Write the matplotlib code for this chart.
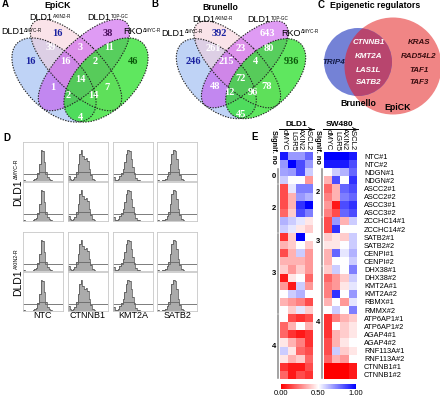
import numpy as np
import matplotlib
matplotlib.use('Agg')
import matplotlib.pyplot as plt
from matplotlib.patches import Ellipse

W, H = 440, 399

# --- Venn counts (A: EpiCK, B: Brunello) ---
# order: b, p, pu, g, b&p, p&pu, pu&g, b&p&pu, p&pu&g, all, b&pu, p&g, b&pu&g, b&p&g, b&g
epick_counts = [16, 16, 38, 46, 39, 3, 11, 16, 2, 14, 1, 7, 2, 14, 4]
brunello_counts = [246, 392, 643, 936, 261, 23, 80, 215, 4, 72, 48, 78, 12, 96, 45]
venn_names = ['DLD1', 'DLD1', 'DLD1', 'RKO']
venn_sups = ['ΔMYC-R', 'AXIN2-R', 'TOP-GC', 'ΔMYC-R']

# --- C: epigenetic regulators ---
shared_genes = ['CTNNB1', 'KMT2A', 'LAS1L', 'SATB2']
brunello_only = ['TRIP4']
epick_only = ['KRAS', 'RAD54L2', 'TAF1', 'TAF3']

# --- D: flow histograms (relative counts per bin) ---
hist_labels = ['NTC', 'CTNNB1', 'KMT2A', 'SATB2']
hist_ntc = [0.04, 0, 0, 0, 0, 0.01, 0.02, 0.05, 0.1, 0.25, 0.55, 1.0, 0.95, 0.6, 0.3, 0.12, 0.05, 0.02, 0.01, 0, 0, 0, 0, 0, 0]
hist_ctnnb1 = [0.15, 0.05, 0.03, 0.05, 0.12, 0.3, 0.55, 0.85, 1.0, 0.8, 0.7, 0.75, 0.65, 0.4, 0.2, 0.08, 0.03, 0.01, 0, 0, 0, 0, 0, 0, 0]
hist_kmt2a = [0.12, 0.04, 0.04, 0.08, 0.15, 0.25, 0.4, 0.6, 0.85, 1.0, 0.95, 0.7, 0.45, 0.25, 0.1, 0.04, 0.02, 0.01, 0, 0, 0, 0, 0, 0, 0]
hist_satb2 = [0.03, 0.01, 0.01, 0.02, 0.04, 0.08, 0.15, 0.3, 0.55, 0.85, 1.0, 0.95, 0.7, 0.4, 0.18, 0.07, 0.03, 0.01, 0, 0, 0, 0, 0, 0, 0]
hist_rows = [('DLD1', 'ΔMYC-R'), ('DLD1', 'AXIN2-R')]

# --- E: heatmap ---
genes = ['NTC#1', 'NTC#2', 'NDGN#1', 'NDGN#2', 'ASCC2#1', 'ASCC2#2', 'ASCC3#1', 'ASCC3#2',
         'ZCCHC14#1', 'ZCCHC14#2', 'SATB2#1', 'SATB2#2', 'CENPI#1', 'CENPI#2', 'DHX38#1',
         'DHX38#2', 'KMT2A#1', 'KMT2A#2', 'RBMX#1', 'RMMX#2', 'ATP6AP1#1', 'ATP6AP1#2',
         'AGAP4#1', 'AGAP4#2', 'RNF113A#1', 'RNF113A#2', 'CTNNB1#1', 'CTNNB1#2']
reporters = ['dMYC', 'LGR5', 'AXIN2', 'ASCL2']
dld1_dmyc = [0.95, 0.7, 0.68, 0.6, 0.15, 0.15, 0.15, 0.2, 0.65, 0.6, 0.1, 0.35, 0.15, 0.35,
             0.4, 0.05, 0.3, 0.5, 0.35, 0.5, 0.5, 0.2, 0.2, 0.45, 0.6, 0.45, 0.1, 0.2]
dld1_lgr5 = [0.7, 1.0, 0.7, 0.5, 0.55, 0.35, 0.35, 0.4, 0.6, 0.55, 0.4, 0.4, 0.35, 0.35,
             0.3, 0.45, 0.05, 0.6, 0.3, 0.4, 0.15, 0.35, 0.1, 0.35, 0.45, 0.35, 0.05, 0.05]
dld1_axin2 = [0.7, 0.85, 0.85, 0.5, 0.75, 0.7, 0.9, 0.85, 0.55, 0.45, 1.0, 0.5, 0.6, 0.35,
              0.4, 0.5, 0.6, 0.65, 0.25, 0.55, 0.1, 0.5, 0.05, 0.25, 0.2, 0.4, 0.05, 0.15]
dld1_ascl2 = [0.8, 0.7, 0.6, 0.3, 0.75, 0.65, 1.0, 0.75, 0.45, 0.4, 0.5, 0.4, 0.3, 0.3,
              0.3, 0.2, 0.3, 0.5, 0.15, 0.4, 0.15, 0.35, 0.1, 0.1, 0.15, 0.2, 0.15, 0.1]
sw480_dmyc = [1.0, 0.95, 0.5, 0.35, 0.2, 0.25, 0.3, 0.25, 0.15, 0.15, 0.4, 0.45, 0.35, 0.35,
              0.4, 0.2, 0.25, 0.25, 0.35, 0.5, 0.1, 0.1, 0.1, 0.15, 0.15, 0.2, 0.0, 0.0]
sw480_lgr5 = [1.0, 0.95, 0.6, 0.85, 0.35, 0.35, 0.05, 0.15, 0.7, 0.9, 0.45, 0.45, 0.8, 0.5,
              0.6, 0.3, 0.3, 0.9, 0.5, 0.6, 0.25, 0.5, 0.35, 0.35, 0.6, 0.35, 0.0, 0.0]
sw480_axin2 = [1.0, 0.95, 0.65, 0.5, 0.8, 0.75, 0.85, 0.8, 0.35, 0.5, 0.4, 0.5, 0.55, 0.5,
               0.5, 0.4, 0.45, 0.5, 0.3, 0.5, 0.35, 0.4, 0.4, 0.45, 0.4, 0.3, 0.0, 0.0]
sw480_ascl2 = [0.95, 0.85, 0.8, 0.9, 0.85, 0.8, 0.9, 0.85, 0.6, 0.5, 0.6, 0.6, 0.65, 0.6,
               0.75, 0.6, 0.55, 0.7, 0.55, 0.75, 0.4, 0.45, 0.45, 0.5, 0.45, 0.5, 0.05, 0.05]
# (label, first row, end row)
dld1_groups = [('0', 2, 4), ('2', 4, 10), ('3', 10, 20), ('4', 20, 28)]
sw480_groups = [('2', 2, 8), ('3', 8, 14), ('4', 14, 28)]

plt.rcParams['font.family'] = ['Liberation Sans', 'DejaVu Sans']

fig = plt.figure(figsize=(W / 100, H / 100), dpi=100)
canvas = fig.add_axes([0, 0, 1, 1])
canvas.set_xlim(0, W)
canvas.set_ylim(H, 0)
canvas.axis('off')
renderer = fig.canvas.get_renderer()


def px_axes(x, y, w, h):
    return fig.add_axes([x / W, 1 - (y + h) / H, w / W, h / H])


def sup_label(x, y, main, sup, fs, sfs, rot=0):
    # main text with a small superscript, centred on (x, y)
    if rot == 0:
        t1 = canvas.text(x, y, main, fontsize=fs, ha='left', va='center')
        t2 = canvas.text(x, y, sup, fontsize=sfs, ha='left', va='top')
        w1 = t1.get_window_extent(renderer).width
        w2 = t2.get_window_extent(renderer).width
        left = max(x - (w1 + w2) / 2, 1)
        t1.set_x(left)
        t2.set_x(left + w1 + 0.3)
        t2.set_y(y - fs * 0.55)
    else:
        t1 = canvas.text(x, y, main, fontsize=fs, ha='center', va='bottom', rotation=90)
        t2 = canvas.text(x, y, sup, fontsize=sfs, ha='left', va='bottom', rotation=90)
        bb1 = t1.get_window_extent(renderer)
        h1, w1 = bb1.height, bb1.width
        h2 = t2.get_window_extent(renderer).height
        bottom = y + (h1 + h2) / 2
        t1.set_y(bottom)
        t2.set_y(bottom - h1 - 0.3)
        t2.set_x(x - w1 / 2 + 0.6)


# region label offsets from venn centre (pixels)
region_pos = [(-50, -11), (-23, -40), (28, -40), (53, -11), (-29, -25), (0, -25), (29, -25),
              (-15, -11), (15, -11), (0, 7), (-27, 15), (27, 15), (-12, 22), (13, 22), (0, 45)]
ell_fill = ['#8cb0f0', '#f7cdd8', '#c54aec', '#2ae02a']
ell_alpha = [0.55, 0.55, 0.55, 0.75]


def draw_venn(cx, cy, s, counts, title, num_colors):
    geo = [(-26, 7, 104, 58, 45), (-4, -8, 120, 48, 45), (4, -8, 120, 48, -45), (26, 7, 104, 58, -45)]
    for (dx, dy, w, h, ang), fc, al in zip(geo, ell_fill, ell_alpha):
        canvas.add_patch(Ellipse((cx + dx * s, cy + dy * s), w * s, h * s, angle=ang,
                                 fc=fc, alpha=al, ec='none'))
    for (dx, dy, w, h, ang) in geo:
        canvas.add_patch(Ellipse((cx + dx * s, cy + dy * s), w * s, h * s, angle=ang,
                                 fc='none', ec='#222222', lw=0.8, ls=(0, (1.2, 1.2))))
    for (dx, dy), n, c in zip(region_pos, counts, num_colors):
        canvas.text(cx + dx * s, cy + dy * s, str(n), ha='center', va='center',
                    family='Liberation Serif', weight='bold', fontsize=7.5, color=c)
    lab_pos = [(-62, -41), (-30, -55), (28, -55), (62, -41)]
    for (dx, dy), nm, sup in zip(lab_pos, venn_names, venn_sups):
        sup_label(cx + dx * s, cy + dy * s, nm, sup, 6.5, 3.3)
    canvas.text(cx - 22 * s, cy - 68 * s, title, ha='center', va='center',
                fontsize=6.3, weight='bold')


col_a = ['#1b22a0', '#1b22a0', '#4a0d5c', '#0b5a0b'] + ['white'] * 11
col_b = ['#1b22a0', '#1b22a0', 'white', '#0b5a0b'] + ['white'] * 11
draw_venn(80, 73, 1.0, epick_counts, 'EpiCK', col_a)
draw_venn(241, 72, 0.95, brunello_counts, 'Brunello', col_b)

# panel letters
for x, y, t in [(2, 4, 'A'), (151, 4, 'B'), (318, 5, 'C'), (3, 138, 'D'), (251, 137, 'E')]:
    canvas.text(x, y, t, fontsize=7, weight='bold', ha='left', va='center')

# --- C ---
blue_c = Ellipse((358, 62), 68, 68, fc='#7482d6', ec='none')
red_c = Ellipse((393, 66), 97, 97, fc='#f08585', ec='none')
canvas.add_patch(red_c)
canvas.add_patch(blue_c)
mid = Ellipse((358, 62), 68, 68, fc='#b8456e', ec='none')
canvas.add_patch(mid)
mid.set_clip_path(red_c)
canvas.text(375, 5, 'Epigenetic regulators', ha='center', va='center', fontsize=6.3, weight='bold')
gene_y = [43, 57, 70, 82]
for g, y in zip(shared_genes, gene_y):
    canvas.text(369, y, g, ha='center', va='center', fontsize=5.8, weight='bold',
                style='italic', color='white')
for g, y in zip(epick_only, gene_y):
    canvas.text(419, y, g, ha='center', va='center', fontsize=5.8, weight='bold',
                style='italic', color='#3a0d10')
canvas.text(334, 62, brunello_only[0], ha='center', va='center', fontsize=5.8,
            weight='bold', style='italic', color='#121a45')
canvas.text(358, 103, 'Brunello', ha='center', va='center', fontsize=6.3, weight='bold')
canvas.text(398, 108, 'EpiCK', ha='center', va='center', fontsize=6.3, weight='bold')

# --- D ---
hists = [hist_ntc, hist_ctnnb1, hist_kmt2a, hist_satb2]
col_x = [23, 68, 113, 157]
row_y = [142, 182, 232, 272]
for r, y in enumerate(row_y):
    for c, x in enumerate(col_x):
        ax = px_axes(x, y, 40, 39)
        h = np.array(hists[c])
        edges = np.linspace(0, 1, len(h) + 1)
        ax.stairs(h, edges, fill=True, color='#ababab')
        ax.stairs(h, edges, color='#4a4a4a', lw=0.5)
        ctrl = np.where(h > 0.3, 0.3, 0.23)
        ax.stairs(ctrl, edges, color='#666666', lw=0.6, baseline=None)
        ax.set_xlim(0, 1)
        ax.set_ylim(0, 1.25)
        ax.set_xticks([])
        ax.set_yticks([])
        for sp in ax.spines.values():
            sp.set_color('#c8c8c8')
            sp.set_linewidth(0.6)
for c, x in enumerate(col_x):
    canvas.text(x + 20, 316, hist_labels[c], ha='center', va='center', fontsize=6.5)
for (nm, sup), y in zip(hist_rows, [182, 272]):
    sup_label(18, y, nm, sup, 7.5, 3.8, rot=90)

# --- E ---
cmap = 'bwr_r'
dld1 = np.array([dld1_dmyc, dld1_lgr5, dld1_axin2, dld1_ascl2]).T
sw480 = np.array([sw480_dmyc, sw480_lgr5, sw480_axin2, sw480_ascl2]).T
top, bottom = 152, 379
row_h = (bottom - top) / len(genes)
for x0, data, name, groups in [(280, dld1, 'DLD1', dld1_groups), (324, sw480, 'SW480', sw480_groups)]:
    ax = px_axes(x0, top, 33, bottom - top)
    im = ax.imshow(data, cmap=cmap, vmin=0, vmax=1, aspect='auto', interpolation='nearest')
    ax.xaxis.tick_top()
    ax.set_xticks(range(4))
    ax.set_xticklabels(reporters, rotation=270, fontsize=5.5)
    ax.tick_params(length=0, pad=1)
    if name == 'SW480':
        ax.yaxis.tick_right()
        ax.set_yticks(range(len(genes)))
        ax.set_yticklabels(genes, fontsize=5.3)
        ax.tick_params(axis='y', pad=5)
    else:
        ax.set_yticks([])
    for sp in ax.spines.values():
        sp.set_visible(False)
    canvas.text(x0 + 16, 124, name, ha='center', va='center', fontsize=6, weight='bold')
    canvas.plot([x0 - 1, x0 + 34], [128.5, 128.5], color='black', lw=0.7)
    canvas.text(x0 - 6.5, 130, 'Signif. no', ha='center', va='top', fontsize=5.3,
                weight='bold', rotation=270)
    for lab, r0, r1 in groups:
        y0 = top + r0 * row_h + 1
        y1 = top + r1 * row_h - 1
        canvas.plot([x0 - 2, x0 - 2], [y0, y1], color='#8a8a8a', lw=1.1)
        canvas.text(x0 - 6.5, (y0 + y1) / 2, lab, ha='center', va='center',
                    fontsize=5.5, weight='bold')

cax = px_axes(281, 384, 75, 5)
cb = fig.colorbar(im, cax=cax, orientation='horizontal', ticks=[0, 0.5, 1])
cb.outline.set_visible(False)
cax.set_xticklabels(['0.00', '0.50', '1.00'])
cax.tick_params(length=0, labelsize=5.5, pad=1)

fig.savefig('out.png', dpi=100)
